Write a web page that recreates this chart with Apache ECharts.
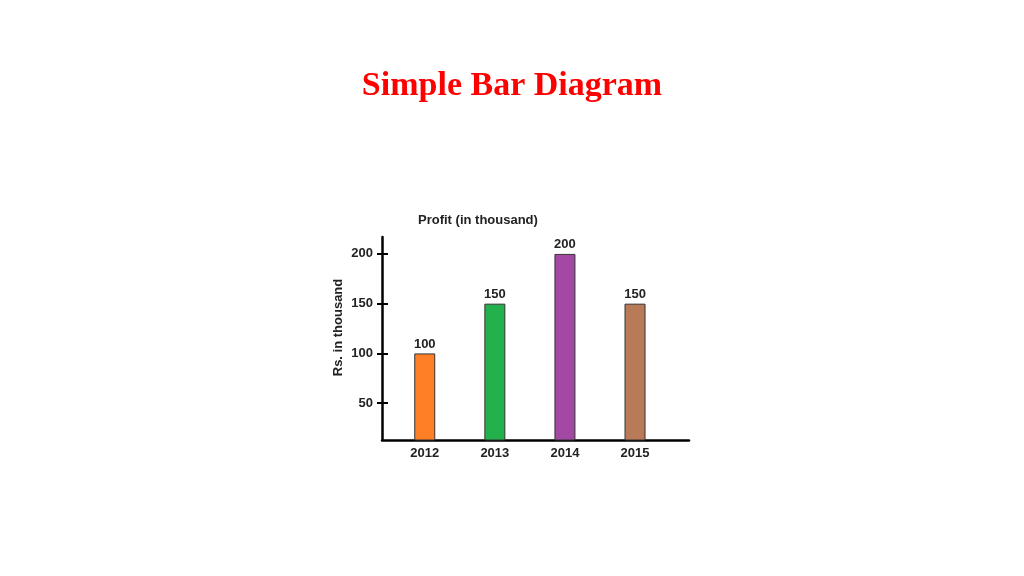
<!DOCTYPE html>
<html>
<head>
<meta charset="utf-8">
<title>Simple Bar Diagram</title>
<script src="https://cdn.jsdelivr.net/npm/echarts@6/dist/echarts.min.js"></script>
<style>
  html, body { margin: 0; padding: 0; background: #fff; }
  #main { width: 1024px; height: 576px; }
</style>
</head>
<body>
<div id="main"></div>
<script>
// data
var years = [2012, 2013, 2014, 2015];
var profits = [100, 150, 200, 150];
var barColors = ['#FF7F27', '#22B14C', '#A349A4', '#B97A57'];
var yTicks = [50, 100, 150, 200];

var chart = echarts.init(document.getElementById('main'));

var barData = years.map(function (y, i) {
  return {
    value: [y, profits[i]],
    itemStyle: { color: barColors[i] }
  };
});

var labelFont = {
  fontFamily: 'Liberation Sans, Arial, sans-serif',
  fontWeight: 'bold',
  fontSize: 13,
  color: '#222'
};

var option = {
  backgroundColor: '#fff',
  animation: false,
  title: [
    {
      text: 'Simple Bar Diagram',
      left: 'center',
      top: 64,
      textStyle: {
        fontFamily: 'Liberation Serif, Times New Roman, serif',
        fontWeight: 'bold',
        fontSize: 34,
        color: '#FF0000'
      }
    },
    {
      // small heading above the plot
      text: 'Profit (in thousand)',
      left: 413,
      top: 209,
      textStyle: labelFont
    }
  ],
  grid: {
    left: 382,
    right: 335,
    top: 237,
    bottom: 136
  },
  xAxis: {
    type: 'value',
    min: 2011.39,
    max: 2015.77,
    axisLine: { lineStyle: { color: '#000', width: 2.5 } },
    axisTick: { show: false },
    splitLine: { show: false },
    axisLabel: Object.assign({
      customValues: years,
      margin: 7,
      formatter: function (v) { return String(v); }
    }, labelFont)
  },
  yAxis: [
    {
      type: 'value',
      min: 13,
      max: 217,
      name: 'Rs. in thousand',
      nameLocation: 'middle',
      nameGap: 37,
      nameRotate: 90,
      nameTextStyle: Object.assign({ padding: [0, 0, 0, 22] }, labelFont),
      axisLine: { show: true, lineStyle: { color: '#000', width: 2.5 } },
      axisTick: {
        show: true,
        customValues: yTicks,
        length: 5,
        lineStyle: { color: '#000', width: 2 }
      },
      splitLine: { show: false },
      axisLabel: Object.assign({
        customValues: yTicks,
        margin: 9
      }, labelFont)
    },
    {
      // second axis only for the inner half of the cross ticks
      type: 'value',
      min: 13,
      max: 217,
      position: 'left',
      axisLine: { show: false },
      axisTick: {
        show: true,
        inside: true,
        customValues: yTicks,
        length: 6,
        lineStyle: { color: '#000', width: 2 }
      },
      splitLine: { show: false },
      axisLabel: { show: false }
    }
  ],
  series: [
    {
      type: 'bar',
      yAxisIndex: 0,
      barWidth: 21,
      data: barData,
      itemStyle: { borderColor: '#333', borderWidth: 1 },
      label: Object.assign({
        show: true,
        position: 'top',
        distance: 3,
        formatter: function (p) { return p.value[1]; }
      }, labelFont)
    }
  ]
};

chart.setOption(option);
</script>
</body>
</html>
